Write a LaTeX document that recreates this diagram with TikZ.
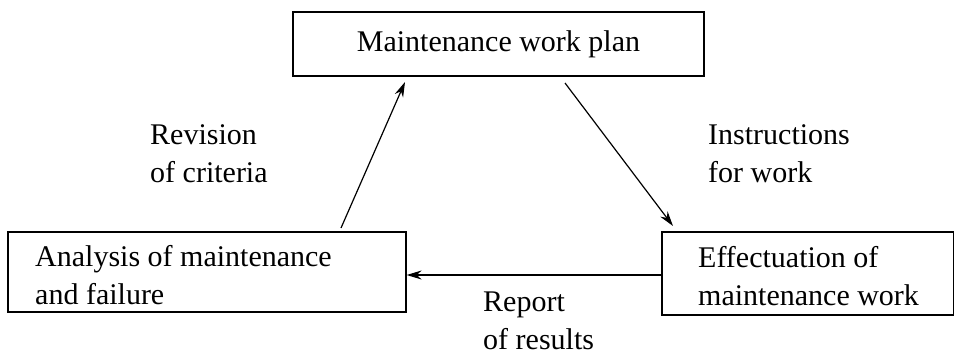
\documentclass[tikz,border=0pt]{standalone}
\usepackage{fontspec}
\setmainfont{Liberation Serif}
\usetikzlibrary{arrows.meta}
\begin{document}
\begin{tikzpicture}[x=1pt,y=-1pt,
  box/.style={draw,line width=1.2pt,inner sep=0pt},
  lbl/.style={align=left,font=\fontsize{30}{38}\selectfont,inner sep=0pt},
  arr/.style={line width=1.2pt,-{Stealth[length=15pt,width=9pt]}}]
\useasboundingbox (0,0) rectangle (954,359);
\node[box,minimum width=411pt,minimum height=64pt] (plan) at (498.5,44) {};
\node[lbl] at (plan.center) {Maintenance work plan};
\node[box,minimum width=398pt,minimum height=80pt] (anal) at (207,272) {};
\node[lbl,anchor=west] at (35,275) {Analysis of maintenance\\and failure};
\node[box,minimum width=292pt,minimum height=83pt] (eff) at (808,273.5) {};
\node[lbl,anchor=west] at (698,276) {Effectuation of\\maintenance work};
\coordinate (a1) at (341,228);
\coordinate (a2) at (405,82);
\coordinate (b1) at (565,83);
\coordinate (b2) at (673,226);
\draw[arr] (a1) -- (a2);
\draw[arr] (b1) -- (b2);
\draw[arr] (eff.west |- 0,275) -- (anal.east |- 0,275);
\node[lbl,anchor=west] at (150,154) {Revision\\of criteria};
\node[lbl,anchor=west] at (708,154) {Instructions\\for work};
\node[lbl,anchor=west] at (483,321) {Report\\of results};
\end{tikzpicture}
\end{document}
